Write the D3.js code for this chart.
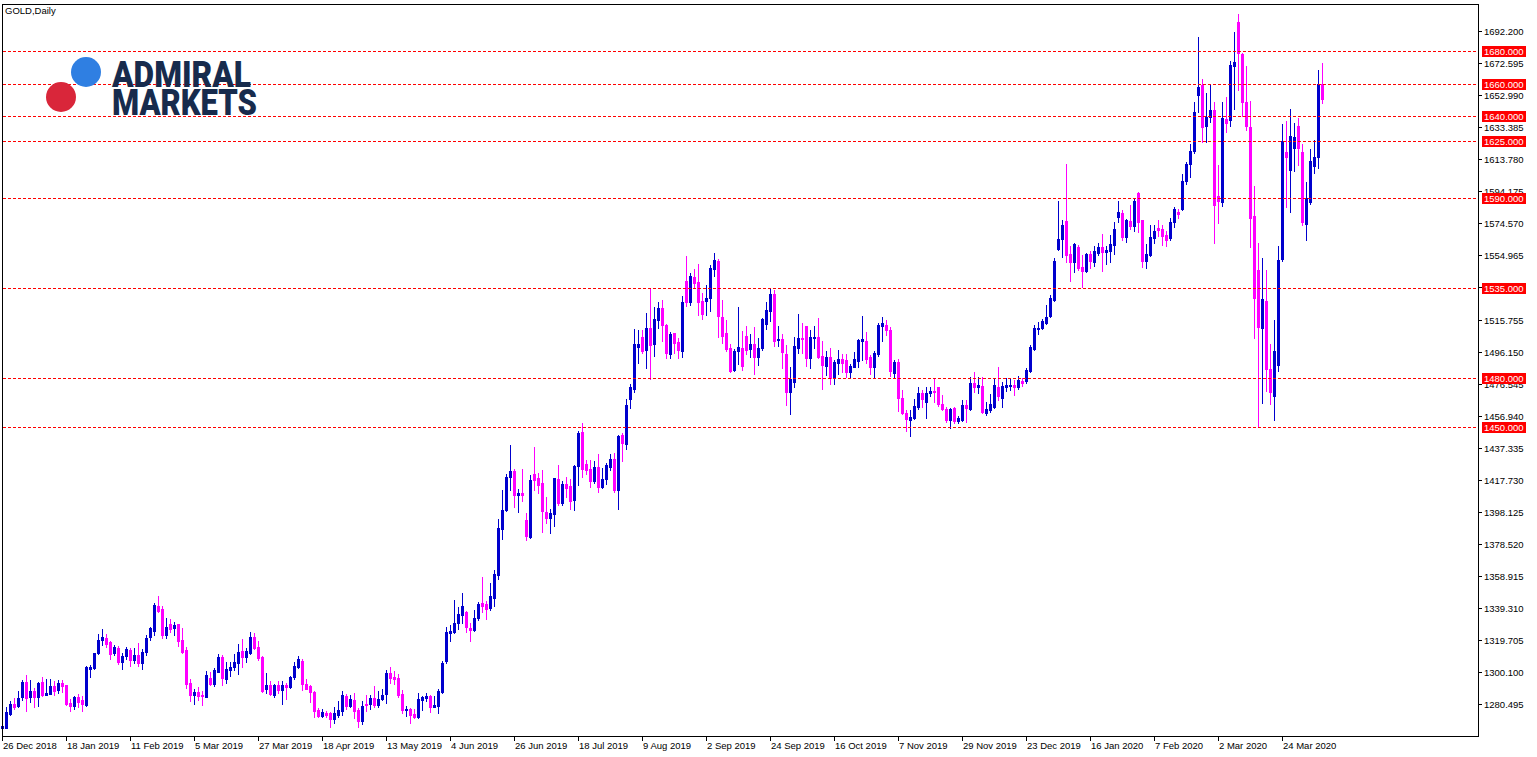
<!DOCTYPE html>
<html><head><meta charset="utf-8">
<script src="https://cdn.jsdelivr.net/npm/d3@7"></script>
<style>html,body{margin:0;padding:0;background:#fff;overflow:hidden}</style>
</head><body><svg id="c" width="1537" height="757"></svg>
<script>
const chartTitle = "GOLD,Daily";
const dateLabels = ["26 Dec 2018","18 Jan 2019","11 Feb 2019","5 Mar 2019","27 Mar 2019","18 Apr 2019","13 May 2019","4 Jun 2019","26 Jun 2019","18 Jul 2019","9 Aug 2019","2 Sep 2019","24 Sep 2019","16 Oct 2019","7 Nov 2019","29 Nov 2019","23 Dec 2019","16 Jan 2020","7 Feb 2020","2 Mar 2020","24 Mar 2020"];
const dateLabelBars = [0,16,32,48,64,80,96,112,128,144,160,176,192,208,224,240,256,272,288,304,320];
const priceTicks = [1280.495,1300.100,1319.705,1339.310,1358.915,1378.520,1398.125,1417.730,1437.335,1456.940,1476.545,1496.150,1515.755,1535.360,1554.965,1574.570,1594.175,1613.780,1633.385,1652.990,1672.595,1692.200];
const levels = [1680,1660,1640,1625,1590,1535,1480,1450];

const open = [
1265.8,1266.0,1274.4,1280.6,1279.5,1284.6,1294.0,1285.0,1288.5,1284.6,
1294.0,1286.3,1286.9,1291.6,1289.1,1293.6,1292.0,1281.0,1279.5,1285.0,
1283.0,1279.8,1302.2,1302.4,1311.6,1319.7,1321.1,1318.7,1312.0,1315.0,
1306.1,1310.2,1313.6,1307.5,1310.5,1305.8,1312.5,1321.3,1325.5,1340.7,
1338.7,1322.8,1329.5,1326.8,1329.3,1319.7,1313.6,1293.2,1286.1,1288.1,
1286.1,1285.0,1296.3,1292.8,1300.3,1309.2,1295.8,1301.3,1303.0,1305.4,
1313.0,1309.1,1311.9,1321.3,1315.2,1309.1,1289.7,1292.2,1286.1,1292.2,
1289.1,1292.2,1291.1,1296.9,1303.4,1307.0,1292.6,1291.8,1288.1,1276.9,
1273.4,1275.2,1274.8,1271.3,1273.8,1276.5,1285.5,1279.5,1283.0,1276.9,
1270.4,1280.6,1280.6,1284.0,1280.0,1283.6,1286.7,1299.7,1297.3,1296.3,
1286.7,1276.9,1277.5,1274.4,1272.8,1283.0,1284.0,1285.4,1278.9,1279.3,
1288.1,1307.1,1324.2,1324.8,1329.9,1335.0,1337.0,1327.2,1325.8,1332.9,
1342.5,1341.7,1339.1,1345.6,1359.5,1387.4,1399.2,1419.2,1423.3,1408.6,
1409.9,1393.1,1382.9,1421.2,1418.6,1415.9,1398.2,1394.1,1396.8,1418.2,
1403.7,1415.1,1413.9,1405.3,1426.1,1447.1,1427.2,1424.3,1417.1,1425.3,
1413.5,1418.2,1425.7,1430.4,1411.5,1445.2,1439.4,1467.3,1473.2,1499.1,
1504.9,1497.1,1510.4,1500.8,1515.5,1522.7,1512.4,1494.6,1507.3,1502.2,
1496.5,1539.3,1526.6,1541.6,1538.5,1527.1,1527.3,1529.1,1546.5,1551.6,
1517.5,1507.7,1498.5,1484.9,1496.5,1498.5,1505.7,1497.7,1500.8,1493.0,
1498.5,1513.0,1521.2,1531.3,1503.1,1503.6,1494.6,1471.6,1477.7,1498.1,
1504.6,1511.8,1492.4,1504.3,1504.9,1493.4,1487.5,1492.6,1480.2,1489.3,
1491.4,1491.0,1483.8,1486.9,1490.6,1502.6,1502.6,1492.6,1486.9,1494.6,
1512.0,1512.5,1509.5,1483.0,1490.0,1467.9,1458.7,1454.3,1455.3,1462.4,
1470.6,1465.5,1470.6,1472.2,1474.3,1464.1,1460.8,1454.3,1461.8,1453.9,
1454.3,1463.4,1461.0,1476.7,1474.3,1475.1,1458.7,1460.4,1462.0,1474.3,
1468.0,1474.7,1475.2,1475.7,1474.7,1478.3,1478.2,1484.5,1497.5,1509.9,
1510.7,1513.8,1518.1,1527.7,1558.9,1564.8,1576.0,1555.8,1551.1,1560.3,
1547.7,1545.6,1555.8,1551.1,1556.6,1560.3,1557.2,1557.9,1561.4,1578.6,
1580.7,1566.0,1576.0,1573.1,1593.3,1576.6,1551.7,1555.2,1565.4,1572.0,
1571.2,1567.4,1565.4,1575.2,1581.3,1583.3,1600.5,1610.7,1618.8,1653.1,
1659.2,1634.3,1639.8,1643.9,1591.3,1587.5,1638.4,1637.8,1671.0,1697.9,
1678.2,1649.0,1633.7,1579.3,1546.0,1510.8,1527.1,1485.5,1469.1,1488.0,
1552.8,1618.4,1607.2,1620.5,1634.1,1618.4,1574.0,1587.8,1609.8,1615.3,1659.8];

const high = [
1267.5,1278.7,1282.4,1284.4,1288.5,1295.4,1298.3,1295.2,1290.5,1294.2,
1296.9,1295.7,1295.7,1294.8,1295.2,1295.2,1292.2,1283.4,1285.6,1286.7,
1285.4,1303.8,1304.6,1312.0,1323.6,1326.4,1323.6,1319.3,1316.6,1316.0,
1311.8,1315.4,1315.1,1314.7,1318.1,1314.1,1322.8,1327.8,1342.1,1346.8,
1340.7,1333.3,1332.7,1330.5,1329.5,1327.0,1315.4,1295.8,1289.8,1291.2,
1288.5,1300.7,1299.9,1302.4,1311.3,1310.5,1306.1,1306.5,1311.1,1317.2,
1320.1,1314.7,1324.4,1323.8,1318.9,1309.9,1299.7,1294.6,1292.8,1294.6,
1294.6,1293.2,1297.7,1306.3,1310.1,1307.9,1295.7,1292.2,1288.7,1277.9,
1277.3,1276.5,1275.8,1278.9,1282.6,1288.7,1286.7,1286.1,1287.1,1277.9,
1282.6,1286.1,1286.1,1291.6,1288.7,1289.8,1301.3,1303.0,1300.7,1298.8,
1289.1,1279.3,1278.3,1277.5,1287.1,1285.4,1287.1,1286.1,1285.4,1289.5,
1306.9,1327.8,1328.9,1344.2,1339.9,1348.4,1337.6,1330.3,1338.0,1343.2,
1358.4,1343.6,1354.8,1362.5,1393.7,1411.5,1421.2,1439.0,1424.3,1411.9,
1424.1,1397.6,1420.6,1438.0,1421.6,1423.7,1407.4,1399.8,1419.0,1426.7,
1416.9,1419.6,1418.2,1426.7,1447.7,1452.2,1429.8,1429.8,1429.4,1433.5,
1424.7,1428.2,1433.5,1433.9,1445.2,1446.2,1467.3,1476.2,1510.0,1509.3,
1509.3,1520.0,1534.2,1523.3,1526.4,1527.7,1512.8,1507.9,1507.6,1504.3,
1530.3,1554.6,1544.0,1546.6,1549.7,1532.2,1536.9,1549.1,1556.3,1552.6,
1527.7,1515.2,1500.8,1497.7,1523.7,1508.7,1511.8,1506.7,1510.9,1504.3,
1516.9,1526.6,1535.2,1534.0,1511.8,1506.9,1500.2,1486.6,1504.9,1519.1,
1513.8,1512.0,1509.3,1511.8,1516.9,1502.6,1496.5,1498.1,1491.0,1497.1,
1494.5,1494.6,1488.5,1496.1,1503.7,1517.9,1508.3,1494.0,1496.5,1513.8,
1517.1,1515.5,1511.0,1491.0,1491.4,1472.6,1460.4,1460.4,1466.9,1474.3,
1472.6,1474.3,1474.3,1479.2,1474.7,1469.6,1462.0,1461.8,1462.4,1456.7,
1466.5,1466.5,1480.8,1483.5,1480.8,1480.8,1465.5,1470.2,1479.8,1486.6,
1477.5,1480.0,1479.6,1478.8,1481.2,1480.0,1485.9,1500.2,1512.4,1514.4,
1516.1,1524.6,1530.8,1553.2,1588.4,1576.6,1610.9,1560.7,1562.8,1561.3,
1555.2,1556.3,1557.7,1560.7,1562.4,1568.0,1560.7,1567.5,1575.7,1588.4,
1582.7,1577.2,1585.8,1590.3,1593.9,1576.8,1561.9,1573.6,1573.6,1576.6,
1573.6,1569.9,1577.6,1584.8,1583.3,1604.8,1612.4,1623.1,1648.6,1688.4,
1662.9,1654.1,1659.6,1648.6,1610.3,1649.0,1652.1,1673.9,1691.4,1702.6,
1679.0,1670.8,1649.4,1597.6,1562.8,1553.2,1546.0,1500.8,1515.5,1560.9,
1635.3,1637.4,1644.5,1636.2,1639.2,1622.9,1600.1,1620.1,1625.5,1668.4,1672.5];

const low = [
1265.3,1265.8,1274.0,1277.3,1278.5,1283.0,1276.5,1282.0,1278.9,1279.5,
1285.4,1286.0,1286.5,1286.3,1287.5,1288.1,1280.0,1276.5,1277.5,1278.5,
1276.5,1279.3,1296.9,1302.0,1311.1,1316.6,1315.6,1308.1,1310.5,1305.0,
1302.2,1308.1,1303.5,1305.9,1304.0,1302.2,1310.5,1319.7,1322.5,1336.6,
1320.7,1321.1,1324.7,1322.8,1316.2,1311.6,1290.1,1282.4,1280.8,1283.0,
1280.0,1284.6,1292.2,1291.8,1299.9,1292.2,1293.6,1297.9,1301.3,1298.8,
1303.4,1306.5,1311.1,1314.1,1307.5,1288.1,1287.1,1286.1,1285.0,1287.1,
1280.8,1283.6,1290.1,1295.7,1302.4,1289.1,1289.5,1282.0,1272.8,1272.8,
1272.8,1272.8,1266.3,1268.7,1272.8,1273.8,1277.5,1278.9,1272.2,1266.3,
1268.1,1276.5,1277.5,1278.9,1278.9,1283.0,1281.4,1293.6,1292.8,1284.6,
1274.8,1273.2,1269.1,1271.8,1272.2,1276.9,1282.4,1275.9,1278.5,1274.8,
1287.1,1305.9,1319.3,1323.8,1326.4,1329.9,1324.6,1319.3,1325.2,1331.9,
1337.0,1332.6,1338.0,1340.5,1357.0,1381.5,1398.8,1411.5,1400.9,1398.0,
1404.9,1380.9,1382.3,1411.5,1409.9,1385.9,1391.5,1385.3,1389.4,1402.3,
1402.3,1407.0,1399.8,1399.2,1414.3,1419.6,1421.2,1413.5,1415.9,1410.4,
1412.9,1415.1,1423.7,1410.0,1399.8,1429.4,1436.5,1461.6,1471.6,1489.3,
1495.1,1486.3,1479.2,1493.4,1510.4,1502.6,1492.4,1492.4,1495.5,1492.0,
1493.0,1524.0,1524.6,1534.8,1518.5,1516.1,1518.5,1520.9,1542.4,1505.2,
1501.6,1496.5,1483.5,1484.3,1488.5,1484.9,1494.6,1493.0,1482.4,1487.9,
1497.1,1509.9,1515.0,1499.5,1499.8,1486.3,1463.5,1458.0,1474.3,1495.1,
1495.1,1487.5,1486.3,1498.1,1492.4,1473.2,1481.8,1476.3,1476.3,1482.4,
1483.8,1480.8,1480.2,1486.5,1486.9,1491.0,1489.0,1482.2,1480.0,1493.4,
1502.8,1506.0,1481.0,1480.8,1459.8,1457.8,1447.7,1444.5,1454.7,1461.0,
1462.0,1455.7,1468.9,1465.5,1462.8,1460.4,1453.2,1449.6,1452.2,1452.6,
1453.6,1453.2,1460.4,1471.6,1471.0,1458.4,1457.3,1459.0,1461.4,1466.5,
1462.0,1472.2,1472.4,1469.6,1473.1,1475.1,1477.0,1483.8,1497.1,1506.7,
1509.9,1513.3,1517.5,1527.1,1558.5,1553.8,1551.1,1539.5,1545.0,1546.0,
1535.5,1545.0,1547.1,1548.5,1555.2,1545.6,1549.6,1551.1,1555.6,1575.2,
1564.4,1562.9,1571.1,1570.1,1569.1,1548.0,1547.1,1554.8,1562.4,1567.0,
1561.3,1560.7,1564.4,1572.2,1577.7,1582.7,1598.5,1603.2,1617.8,1642.5,
1624.1,1624.1,1636.8,1562.4,1574.6,1585.4,1630.6,1634.3,1644.5,1656.1,
1640.4,1631.7,1560.0,1504.3,1450.8,1464.9,1472.0,1463.9,1454.3,1484.5,
1551.6,1584.8,1581.7,1606.8,1610.3,1573.6,1564.4,1586.4,1605.2,1608.2,1648.4];

const close = [
1266.8,1275.5,1280.4,1278.9,1284.4,1294.0,1284.4,1288.5,1285.0,1293.4,
1286.1,1287.1,1291.4,1288.5,1293.4,1291.6,1280.6,1279.3,1285.0,1281.6,
1280.6,1303.2,1303.4,1311.6,1319.7,1321.5,1317.3,1311.3,1315.4,1306.0,
1310.2,1314.1,1307.5,1310.5,1305.4,1312.5,1320.7,1326.8,1341.3,1337.6,
1322.8,1327.8,1326.2,1328.9,1319.3,1312.2,1292.8,1286.1,1287.6,1285.5,
1285.3,1298.3,1292.8,1301.3,1309.2,1296.5,1301.9,1303.2,1306.1,1312.3,
1309.1,1313.0,1321.3,1315.0,1308.9,1288.7,1292.0,1286.7,1292.2,1289.1,
1292.2,1291.1,1296.9,1303.8,1307.9,1292.6,1289.7,1288.1,1276.5,1273.4,
1275.5,1273.8,1271.3,1275.2,1276.9,1286.1,1279.5,1283.6,1276.5,1270.4,
1279.3,1280.0,1284.0,1280.0,1283.4,1286.1,1299.7,1296.7,1295.8,1286.1,
1276.9,1277.5,1273.8,1272.8,1283.4,1284.6,1285.4,1278.9,1280.0,1288.7,
1305.9,1324.4,1325.4,1329.9,1335.6,1340.5,1327.5,1325.8,1332.9,1341.7,
1340.5,1338.7,1346.6,1360.1,1388.4,1399.2,1419.6,1423.1,1408.4,1409.9,
1408.6,1383.3,1417.5,1417.5,1414.5,1398.8,1394.1,1397.2,1418.6,1403.3,
1415.1,1412.9,1404.9,1426.1,1446.4,1424.3,1423.7,1417.1,1425.7,1413.5,
1418.0,1426.7,1430.4,1411.5,1444.6,1440.0,1463.6,1474.2,1500.8,1500.8,
1496.7,1510.4,1500.2,1515.9,1522.7,1512.4,1495.5,1506.9,1501.6,1497.1,
1526.2,1526.6,1542.4,1538.3,1526.6,1519.1,1529.1,1547.1,1552.2,1518.1,
1505.8,1497.7,1484.3,1496.5,1498.7,1487.5,1497.1,1500.8,1493.0,1498.5,
1516.1,1521.6,1531.3,1502.6,1503.7,1496.0,1471.6,1479.2,1499.5,1504.6,
1503.6,1492.4,1504.9,1504.9,1493.0,1487.9,1492.6,1480.2,1489.6,1491.4,
1489.3,1483.8,1487.3,1491.4,1503.1,1503.6,1491.6,1486.9,1495.5,1512.4,
1513.8,1509.5,1484.0,1490.0,1467.9,1458.4,1454.7,1456.3,1462.8,1471.0,
1467.1,1471.0,1472.2,1471.2,1464.1,1461.0,1454.3,1461.0,1453.9,1455.7,
1463.4,1461.8,1476.7,1474.3,1475.7,1459.0,1461.0,1464.1,1475.5,1469.1,
1475.1,1475.7,1475.7,1474.3,1478.8,1476.7,1484.9,1499.1,1510.7,1510.7,
1515.0,1517.5,1529.1,1551.6,1565.0,1573.6,1555.2,1551.1,1561.8,1547.1,
1545.6,1555.8,1551.7,1557.8,1559.9,1557.2,1558.3,1562.0,1571.2,1581.3,
1566.4,1576.6,1573.1,1588.2,1575.6,1551.6,1555.6,1566.4,1569.9,1570.5,
1567.0,1564.4,1575.2,1583.3,1580.1,1600.5,1610.9,1618.8,1642.5,1658.2,
1633.7,1639.8,1643.9,1585.8,1588.4,1639.2,1635.8,1671.4,1673.1,1679.0,
1648.6,1634.3,1577.7,1529.1,1511.4,1528.3,1485.5,1471.6,1496.5,1552.2,
1624.9,1615.3,1628.0,1627.2,1620.9,1575.6,1590.3,1612.6,1615.3,1659.8,1650.6];

const UP = "#0000cd", DOWN = "#ff00ff", LEVEL = "#ff0000";
const FONT = "'Liberation Sans', Arial, sans-serif";

const svg = d3.select("#c");
const frame = {left: 2, right: 1478, top: 4, bottom: 736};

const x = d3.scaleLinear().domain([0, 330]).range([2, 1322]);
const y = d3.scaleLinear().domain([1450, 1680]).range([427, 51]);
const py = v => Math.round(y(v));

// candles
const bars = d3.range(open.length).map(i => ({i, o: open[i], h: high[i], l: low[i], c: close[i]}));
const g = svg.append("g").attr("shape-rendering", "crispEdges");
g.selectAll("rect.w").data(bars).join("rect")
  .attr("x", d => x(d.i)).attr("width", 1)
  .attr("y", d => py(d.h)).attr("height", d => py(d.l) - py(d.h) + 1)
  .attr("fill", d => d.c >= d.o ? UP : DOWN);
g.selectAll("rect.b").data(bars).join("rect")
  .attr("x", d => x(d.i) - 1).attr("width", 3)
  .attr("y", d => py(Math.max(d.o, d.c)))
  .attr("height", d => Math.max(1, py(Math.min(d.o, d.c)) - py(Math.max(d.o, d.c)) + 1))
  .attr("fill", d => d.c >= d.o ? UP : DOWN);

// level lines
const lv = svg.append("g").attr("shape-rendering", "crispEdges");
lv.selectAll("line").data(levels).join("line")
  .attr("x1", frame.left + 1).attr("x2", frame.right)
  .attr("y1", d => py(d) + 0.5).attr("y2", d => py(d) + 0.5)
  .attr("stroke", LEVEL).attr("stroke-width", 1).attr("stroke-dasharray", "3,2");

// frame
svg.append("rect").attr("x", frame.left + 0.5).attr("y", frame.top + 0.5)
  .attr("width", frame.right - frame.left).attr("height", frame.bottom - frame.top)
  .attr("fill", "none").attr("stroke", "#000").attr("shape-rendering", "crispEdges");

// price axis
const ya = svg.append("g").attr("shape-rendering", "crispEdges");
ya.selectAll("line").data(priceTicks).join("line")
  .attr("x1", frame.right).attr("x2", frame.right + 4)
  .attr("y1", d => py(d) + 0.5).attr("y2", d => py(d) + 0.5).attr("stroke", "#000");
svg.append("g").selectAll("text").data(priceTicks).join("text")
  .attr("x", frame.right + 6).attr("y", d => py(d) + 4)
  .attr("font-family", FONT).attr("font-size", 9.5).attr("fill", "#000")
  .text(d => d.toFixed(3));

// level labels
const ll = svg.append("g");
ll.selectAll("rect").data(levels).join("rect")
  .attr("x", frame.right + 4).attr("width", 44)
  .attr("y", d => py(d) - 5).attr("height", 11)
  .attr("fill", LEVEL).attr("shape-rendering", "crispEdges");
ll.selectAll("text").data(levels).join("text")
  .attr("x", frame.right + 6).attr("y", d => py(d) + 4)
  .attr("font-family", FONT).attr("font-size", 9.5).attr("fill", "#fff")
  .text(d => d.toFixed(3));

// date axis
const xa = svg.append("g");
xa.selectAll("line").data(dateLabelBars).join("line")
  .attr("x1", d => x(d) + 0.5).attr("x2", d => x(d) + 0.5)
  .attr("y1", frame.bottom).attr("y2", frame.bottom + 5)
  .attr("stroke", "#000").attr("shape-rendering", "crispEdges");
xa.selectAll("text").data(dateLabelBars).join("text")
  .attr("x", d => x(d) + 1).attr("y", frame.bottom + 13)
  .attr("font-family", FONT).attr("font-size", 9.5).attr("fill", "#000")
  .text((d, k) => dateLabels[k]);

// title
svg.append("text").attr("x", 5).attr("y", 14)
  .attr("font-family", FONT).attr("font-size", 9.5).attr("fill", "#000").text(chartTitle);

// logo
const logo = svg.append("g");
logo.append("circle").attr("cx", 86).attr("cy", 72).attr("r", 15).attr("fill", "#2f7fe2");
logo.append("circle").attr("cx", 61).attr("cy", 97).attr("r", 15).attr("fill", "#d9263a");
logo.append("text").attr("x", 112).attr("y", 86.5)
  .attr("font-family", "Roboto, 'Open Sans', sans-serif").attr("font-weight", 900)
  .attr("font-size", 36).attr("fill", "#172b4d")
  .attr("textLength", 139).attr("lengthAdjust", "spacingAndGlyphs").text("ADMIRAL");
logo.append("text").attr("x", 112).attr("y", 114.5)
  .attr("font-family", "Roboto, 'Open Sans', sans-serif").attr("font-weight", 900)
  .attr("font-size", 36).attr("fill", "#172b4d")
  .attr("textLength", 145).attr("lengthAdjust", "spacingAndGlyphs").text("MARKETS");
</script></body></html>
